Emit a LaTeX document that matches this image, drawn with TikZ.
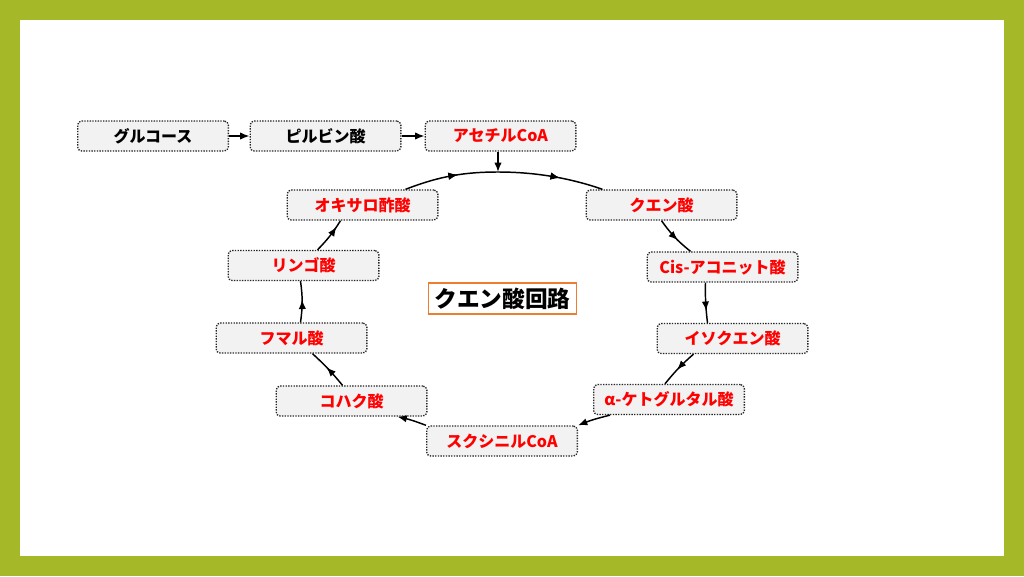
\documentclass[tikz,border=0pt]{standalone}
\usepackage{fontspec}
\setmainfont{Noto Sans CJK JP}
\usetikzlibrary{arrows.meta,calc,decorations.markings}
\definecolor{frame}{RGB}{164,184,40}
\definecolor{boxfill}{RGB}{242,242,242}
\definecolor{txtred}{RGB}{255,0,0}
\definecolor{orangeline}{RGB}{237,125,49}
\begin{document}
\begin{tikzpicture}[x=0.75pt,y=-0.75pt,
  stepbox/.style={draw=black!85, densely dotted, line width=1pt, fill=boxfill, rounded corners=3pt,
    minimum width=113pt, minimum height=22.5pt, inner sep=0pt,
    font=\fontsize{12}{14}\selectfont\bfseries},
  redtxt/.style={text=txtred},
  conn/.style={line width=1.1pt, -{Latex[length=7pt,width=5.5pt]}},
  plain/.style={line width=1.1pt},
  midarr/.style={postaction={decorate}, decoration={markings,
    mark=at position #1 with {\arrow{Latex[length=7pt,width=5.5pt]}}}},
]
\fill[frame] (0,0) rectangle (1024,576);
\fill[white] (20,20) rectangle (1004,556);
\useasboundingbox (0,0) rectangle (1024,576);

\node[stepbox] (glc) at (153,136) {グルコース};
\node[stepbox] (pyr) at (325.5,136) {ピルビン酸};
\node[stepbox, redtxt] (acoa) at (500.5,136) {アセチルCoA};
\node[stepbox, redtxt] (oaa) at (362.5,205) {オキサロ酢酸};
\node[stepbox, redtxt] (cit) at (661.5,205) {クエン酸};
\node[stepbox, redtxt] (cis) at (722.5,267) {Cis-アコニット酸};
\node[stepbox, redtxt] (mal) at (303.5,265.5) {リンゴ酸};
\node[stepbox, redtxt] (fum) at (291.5,338) {フマル酸};
\node[stepbox, redtxt] (iso) at (732.5,338.5) {イソクエン酸};
\node[stepbox, redtxt] (suc) at (351.5,401) {コハク酸};
\node[stepbox, redtxt] (akg) at (669,399.5) {α-ケトグルタル酸};
\node[stepbox, redtxt] (scoa) at (502,441) {スクシニルCoA};
\node[draw=orangeline, line width=1.2pt, fill=white, minimum width=111pt, minimum height=23pt,
  inner sep=0pt, font=\fontsize{17}{19}\selectfont\bfseries] (title) at (502.5,298.5) {クエン酸回路};

\coordinate (top) at (498,172);

\draw[conn] (glc) -- (pyr);
\draw[conn] (pyr) -- (acoa);
\draw[conn] (acoa.south -| top) -- (top);

\draw[plain, midarr=0.27, midarr=0.78] ($(oaa.north)+(43,0)$) .. controls (440,176) and (465,172) .. (top)
  .. controls (535,172) and (570,178) .. ($(cit.north)+(-59,0)$);
\draw[plain, midarr=0.6] (cit.south) to[bend right=8] ($(cis.north)+(-32,0)$);
\draw[plain, midarr=0.7] ($(cis.south)+(-17,0)$) to[bend right=4] ($(iso.north)+(-25,0)$);
\draw[plain, midarr=0.55] ($(iso.south)+(-39,0)$) to[bend right=5] ($(akg.north)+(-4,0)$);
\draw[conn] ($(akg.south)+(-59,0)$) to[bend right=4] (scoa.north east);
\draw[conn] (scoa.north west) to[bend right=4] ($(suc.south)+(46,0)$);
\draw[plain, midarr=0.55] ($(suc.north)+(-9,0)$) to[bend right=4] ($(fum.south)+(21,0)$);
\draw[plain, midarr=0.55] ($(fum.north)+(9,0)$) to[bend right=8] ($(mal.south)+(-3,0)$);
\draw[plain, midarr=0.8] ($(mal.north)+(14,0)$) to[bend right=6] ($(oaa.south)+(-22,0)$);
\end{tikzpicture}
\end{document}
